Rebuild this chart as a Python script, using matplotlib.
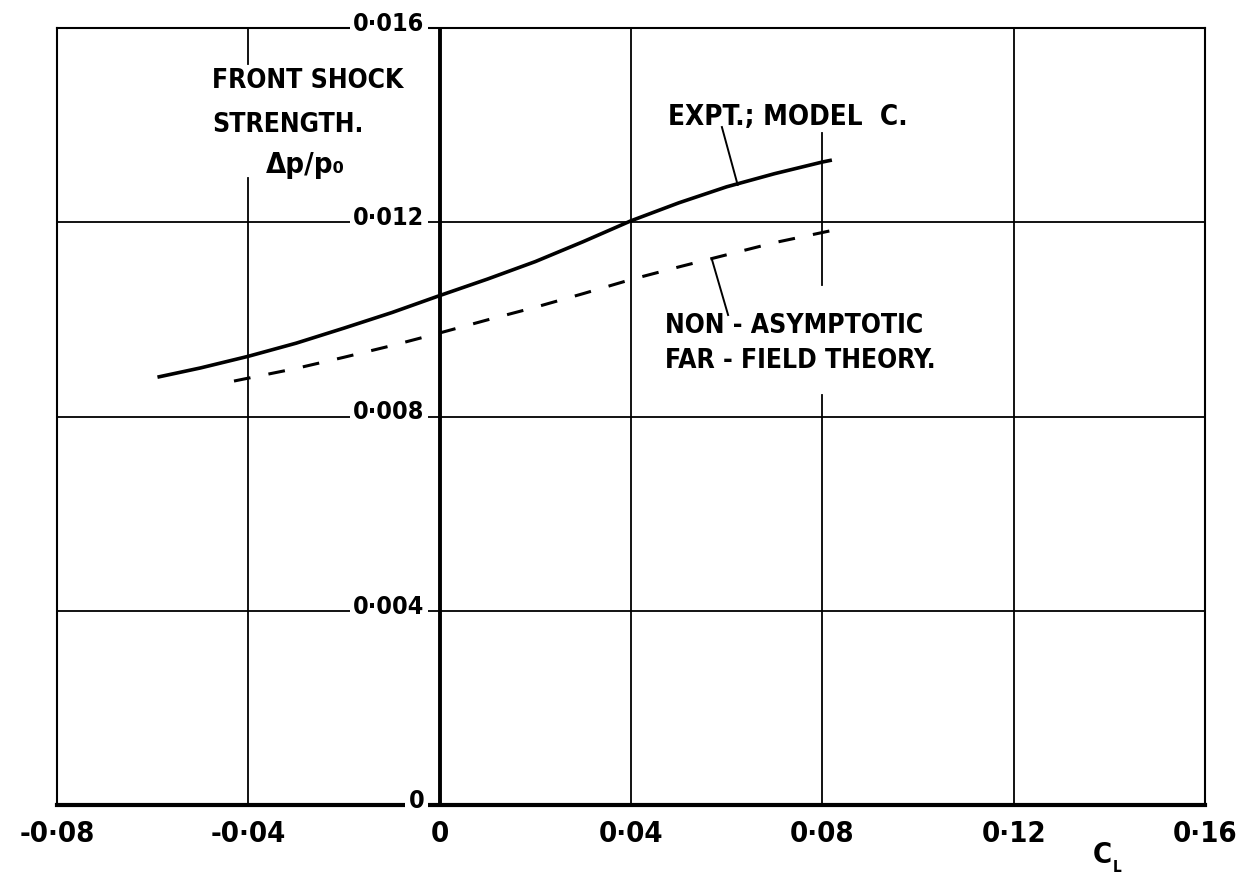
"""
Front shock strength dp/p0 against lift coefficient C_L: experiment on
model C (solid) and non-asymptotic far-field theory (dashed).
Redrawn in the style of the hand-lettered original.
"""

import matplotlib
matplotlib.use('Agg')
import matplotlib.pyplot as plt

# experiment, model C (solid line)
cl_expt = [-0.059, -0.05, -0.04, -0.03, -0.02, -0.01, 0.0, 0.01, 0.02,
           0.03, 0.04, 0.05, 0.06, 0.07, 0.08, 0.082]
dp_expt = [0.00881, 0.00900, 0.00924, 0.00951, 0.00982, 0.01014, 0.01049,
           0.01083, 0.01119, 0.01160, 0.01203, 0.01240, 0.01273, 0.01300,
           0.01324, 0.01328]

# non-asymptotic far-field theory (dashed line)
cl_theory = [-0.043, -0.04, -0.03, -0.02, -0.01, 0.0, 0.01, 0.02, 0.03,
             0.04, 0.05, 0.06, 0.07, 0.0815]
dp_theory = [0.00873, 0.00879, 0.00899, 0.00922, 0.00946, 0.00972, 0.00999,
             0.01025, 0.01053, 0.01082, 0.01108, 0.01133, 0.01158, 0.01182]

x_ticks = [-0.08, -0.04, 0.0, 0.04, 0.08, 0.12, 0.16]
x_labels = ['-0·08', '-0·04', '0', '0·04', '0·08', '0·12', '0·16']
y_ticks = [0.0, 0.004, 0.008, 0.012, 0.016]
y_labels = ['0', '0·004', '0·008', '0·012', '0·016']

XMIN, XMAX = -0.08, 0.16
YMIN, YMAX = 0.0, 0.016

plt.rcParams['font.family'] = 'DejaVu Sans'
plt.rcParams['font.stretch'] = 'condensed'
plt.rcParams['font.weight'] = 'bold'


def vgrid(ax, x, spans, lw=1.3):
    """ vertical grid line at x, drawn only over the given (y0, y1) spans """
    for y0, y1 in spans:
        ax.axvline(x, ymin=(y0 - YMIN) / (YMAX - YMIN), ymax=(y1 - YMIN) / (YMAX - YMIN),
                   color='black', lw=lw, zorder=1)


def main():
    fig = plt.figure(figsize=(12.57, 8.73), dpi=100)
    ax = fig.add_axes([57 / 1257, 68 / 873, 1148 / 1257, 777 / 873])
    ax.set_xlim(XMIN, XMAX)
    ax.set_ylim(YMIN, YMAX)

    for s in ('top', 'left', 'right'):
        ax.spines[s].set_linewidth(1.5)
    ax.spines['bottom'].set_linewidth(3.0)
    ax.axvline(0, color='black', lw=2.8, zorder=3)

    # grid, broken where the lettering sits
    for yv in y_ticks[1:-1]:
        ax.axhline(yv, color='black', lw=1.3, zorder=1)
    vgrid(ax, -0.04, [(0.0, 0.01292), (0.01526, 0.016)])
    vgrid(ax, 0.04, [(0.0, 0.016)])
    vgrid(ax, 0.08, [(0.0, 0.00844), (0.01071, 0.01384)])
    vgrid(ax, 0.12, [(0.0, 0.016)])

    ax.plot(cl_expt, dp_expt, color='black', lw=2.6, solid_capstyle='butt', zorder=4)
    ax.plot(cl_theory, dp_theory, color='black', lw=2.2,
            linestyle=(0, (5.5, 6.0)), zorder=4)

    # y labels sit on the C_L = 0 axis
    ax.set_yticks([])
    for yv, lab in zip(y_ticks, y_labels):
        ax.annotate(lab, xy=(0, yv), xytext=(-11, 3), textcoords='offset points',
                    ha='right', va='center', fontsize=18,
                    bbox=dict(fc='white', ec='none', pad=2.5),
                    zorder=6, annotation_clip=False)

    ax.set_xticks(x_ticks, x_labels)
    ax.tick_params(axis='x', length=0, pad=11, labelsize=21)
    ax.text(0.1385, -0.00103, 'C', fontsize=21, ha='center', va='center', clip_on=False)
    ax.text(0.1416, -0.00128, 'L', fontsize=11, ha='center', va='center', clip_on=False)

    # lettering and leaders
    ax.text(-0.0476, 0.01518, 'FRONT SHOCK', fontsize=19, ha='left', va='top')
    ax.text(-0.0476, 0.01427, 'STRENGTH.', fontsize=19, ha='left', va='top')
    ax.text(-0.028, 0.01318, 'Δp/p₀', fontsize=21, ha='center', va='center')

    ax.text(0.0477, 0.01446, 'EXPT.; MODEL  C.', fontsize=20, ha='left', va='top')
    ax.plot([0.0590, 0.0623], [0.01396, 0.01277], color='black', lw=1.4, zorder=4)

    ax.text(0.0471, 0.01013, 'NON - ASYMPTOTIC\nFAR - FIELD THEORY.', fontsize=19,
            ha='left', va='top', linespacing=1.45)
    ax.plot([0.0569, 0.0603], [0.01124, 0.01009], color='black', lw=1.4, zorder=4)

    fig.savefig('out.png', dpi=100)
    plt.close(fig)


if __name__ == '__main__':
    main()
